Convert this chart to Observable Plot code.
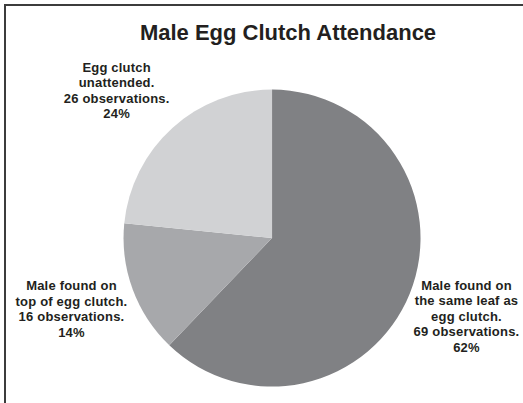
<!DOCTYPE html>
<html>
<head>
<meta charset="utf-8">
<script src="https://cdn.jsdelivr.net/npm/d3@7"></script>
<script src="https://cdn.jsdelivr.net/npm/@observablehq/plot@0.6"></script>
<style>
  html, body { margin: 0; padding: 0; background: #fff; }
  #wrap { position: relative; width: 523px; height: 403px; overflow: hidden; }
  #wrap svg { position: absolute; left: 0; top: 0; }
  #border { position: absolute; left: 4px; top: 4px; width: 600px; height: 600px;
            border-top: 2px solid #3c3c3c; border-left: 2px solid #3c3c3c; box-sizing: border-box; }
</style>
</head>
<body>
<div id="wrap"><div id="border"></div></div>
<script>
// Data
const categories = [
  "Male found on the same leaf as egg clutch.",
  "Male found on top of egg clutch.",
  "Egg clutch unattended."
];
const observations = [69, 16, 26];
const percentLabels = ["62%", "14%", "24%"];
const labelLines = [
  ["Male found on", "the same leaf as", "egg clutch."],
  ["Male found on", "top of egg clutch."],
  ["Egg clutch", "unattended."]
];
const sliceColors = ["#808184", "#a7a8ab", "#d1d2d4"];
const title = "Male Egg Clutch Attendance";

// layout constants (radius units, pie centre at 0,0)
const labelPos = [[1.306, -0.52], [-1.354, -0.47], [-1.05, 1.0]];

const data = categories.map((c, i) => ({category: c, value: observations[i]}));
const labels = categories.map((c, i) => ({
  category: c,
  text: [...labelLines[i], `${observations[i]} observations.`, percentLabels[i]].join("\n"),
  lx: labelPos[i][0],
  ly: labelPos[i][1]
}));

function pieMark(index, scales) {
  const cx = scales.x(0), cy = scales.y(0);
  const r = scales.x(1) - scales.x(0);
  const arcs = d3.pie().sort(null).value(d => d.value)(data);
  const arc = d3.arc().innerRadius(0).outerRadius(r);
  const g = d3.create("svg:g").attr("transform", `translate(${cx},${cy})`);
  g.selectAll("path").data(arcs).join("path")
    .attr("d", arc)
    .attr("fill", d => scales.color(d.data.category));
  return g.node();
}

const chart = Plot.plot({
  width: 523,
  height: 403,
  margin: 0,
  x: {domain: [-1.832, 1.690], axis: null},
  y: {domain: [-1.111, 1.603], axis: null},
  color: {domain: categories, range: sliceColors},
  style: {fontFamily: "'Liberation Sans', Arial, sans-serif", background: "transparent"},
  marks: [
    pieMark,
    Plot.text(labels, {
      x: "lx", y: "ly", text: "text",
      fontSize: 13, fontWeight: "bold", lineHeight: 1.2,
      textAnchor: "middle", fill: "#231f20"
    }),
    Plot.text([title], {
      frameAnchor: "top", dx: 26, dy: 32, text: d => d,
      fontSize: 22, fontWeight: "bold", fill: "#231f20", lineAnchor: "middle"
    })
  ]
});
chart.querySelectorAll("text").forEach(t => {
  if (t.closest("g[font-size='13']")) t.style.letterSpacing = "0.2px";
});
document.getElementById("wrap").appendChild(chart);
</script>
</body>
</html>
